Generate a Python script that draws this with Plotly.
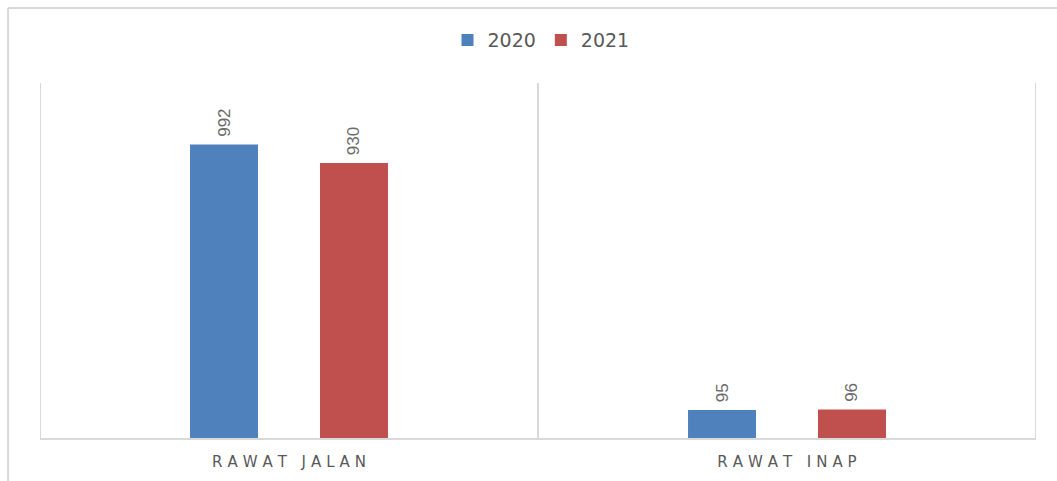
import plotly.graph_objects as go

categories = ["RAWAT JALAN", "RAWAT INAP"]
series_names = ["2020", "2021"]
values_2020 = [992, 95]
values_2021 = [930, 96]
colors = ["#4F81BD", "#C0504D"]

SP = "\u2004"
ticktext = [SP.join(list(c.replace(" ", "\u2004"))) for c in categories]

fig = go.Figure()
for name, vals, col in zip(series_names, [values_2020, values_2021], colors):
    fig.add_trace(go.Bar(
        x=categories, y=vals, name=name,
        marker=dict(color=col, line=dict(width=0)),
        text=["\u00a0" + str(v) for v in vals], textposition="outside", textangle=-90,
        textfont=dict(family="Liberation Sans", size=17, color="#6b6b6b"),
        cliponaxis=False,
    ))

fig.update_layout(
    width=1057, height=481,
    margin=dict(l=40, r=21, t=83, b=43, autoexpand=False),
    paper_bgcolor="white", plot_bgcolor="white",
    barmode="group", bargap=0.478, bargroupgap=0.477,
    font=dict(family="DejaVu Sans", color="#595959"),
    legend=dict(orientation="h", x=0.503, xanchor="center", y=1.121, yanchor="middle",
                font=dict(size=19, color="#595959"), bgcolor="rgba(0,0,0,0)",
                traceorder="normal"),
    xaxis=dict(type="category", tickvals=categories, ticktext=ticktext,
               showgrid=False, showline=True, linecolor="#d9d9d9", linewidth=2, ticks="",
               tickfont=dict(size=15, color="#595959"), ticklabelstandoff=9,
               range=[-0.5, 1.5]),
    yaxis=dict(range=[0, 1200], showgrid=False, showticklabels=False, zeroline=False, showline=False),
    showlegend=True,
)
for xb in [-0.5, 0.5, 1.5]:
    fig.add_shape(type="line", xref="x", yref="paper", x0=xb, x1=xb, y0=0, y1=1,
                  line=dict(color="#d9d9d9", width=2), layer="below")
fig.add_shape(type="line", xref="paper", yref="paper", x0=-0.0321, x1=-0.0321, y0=1.2113, y1=-0.2,
              line=dict(color="#d9d9d9", width=2))
fig.add_shape(type="line", xref="paper", yref="paper", x0=-0.0321, x1=1.05, y0=1.2113, y1=1.2113,
              line=dict(color="#d9d9d9", width=2))

fig.write_html("out.html")
